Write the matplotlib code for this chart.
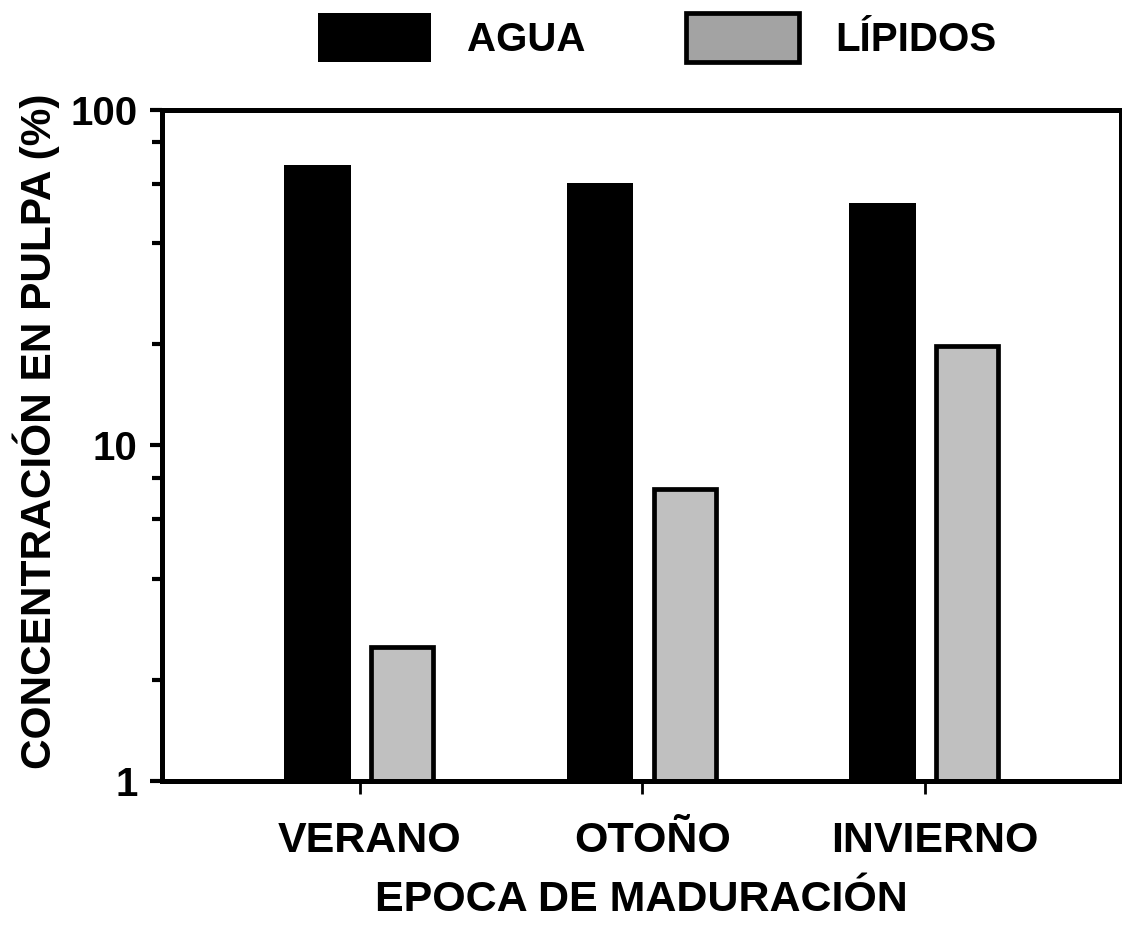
import matplotlib
matplotlib.use('Agg')
import matplotlib.pyplot as plt
import matplotlib.transforms as mtransforms
from matplotlib.patches import Patch
from matplotlib.ticker import FixedLocator, NullFormatter
import numpy as np

plt.rcParams['font.family'] = ['Liberation Sans', 'DejaVu Sans']
plt.rcParams['font.weight'] = 'bold'

# datos: concentracion en pulpa (%) por epoca de maduracion
epocas = ['VERANO', 'OTOÑO', 'INVIERNO']
agua = [68.5, 60.5, 52.5]
lipidos = [2.5, 7.4, 19.7]
series = ['AGUA', 'LÍPIDOS']

fig = plt.figure(figsize=(11.22, 9.25), dpi=100)
ax = fig.add_axes([0.1448, 0.1562, 0.8542, 0.7254])

x = np.arange(len(epocas))
ax.bar(x - 0.15, agua, width=0.234, color='black', edgecolor='none')
ax.bar(x + 0.15, lipidos, width=0.218, color='#c0c0c0', edgecolor='black',
       linewidth=3.4)

ax.set_yscale('log')
ax.set_ylim(1, 100)
ax.set_xlim(-0.699, 2.694)

ax.yaxis.set_major_locator(FixedLocator([1, 10, 100]))
ax.set_yticklabels(['1', '10', '100'])
ax.yaxis.set_minor_locator(FixedLocator([2, 4, 6, 8, 20, 40, 60, 80]))
ax.yaxis.set_minor_formatter(NullFormatter())
ax.set_xticks(x)
ax.set_xticklabels(epocas)

for s in ax.spines.values():
    s.set_linewidth(3.6)

ax.tick_params(axis='y', which='major', direction='out', length=9, width=3,
               labelsize=29, pad=9)
ax.tick_params(axis='y', which='minor', direction='out', length=7, width=3)
ax.tick_params(axis='x', direction='out', length=9, width=2, labelsize=31,
               pad=20)

# nombres de epoca un poco corridos a la derecha
shift = mtransforms.ScaledTranslation(10 / 100, 0, fig.dpi_scale_trans)
for lbl in ax.get_xticklabels():
    lbl.set_transform(lbl.get_transform() + shift)

ax.set_xlabel('EPOCA DE MADURACIÓN', fontsize=31, fontweight='bold',
              labelpad=14)
ax.set_ylabel('CONCENTRACIÓN EN PULPA (%)', fontsize=30.5, fontweight='bold')
ax.yaxis.set_label_coords(-0.107, 0.52)

# leyenda arriba, cajas grandes
handles = [Patch(facecolor='black', edgecolor='black', linewidth=0),
           Patch(facecolor='#a3a3a3', edgecolor='black', linewidth=3.4)]
fig.legend(handles, series, loc='upper center', bbox_to_anchor=(0.586, 0.995),
           ncol=2, frameon=False, fontsize=29, handlelength=2.8,
           handleheight=1.5, handletextpad=0.9, columnspacing=2.5,
           borderaxespad=0.0, borderpad=0.2)

fig.savefig('out.png', dpi=100)
